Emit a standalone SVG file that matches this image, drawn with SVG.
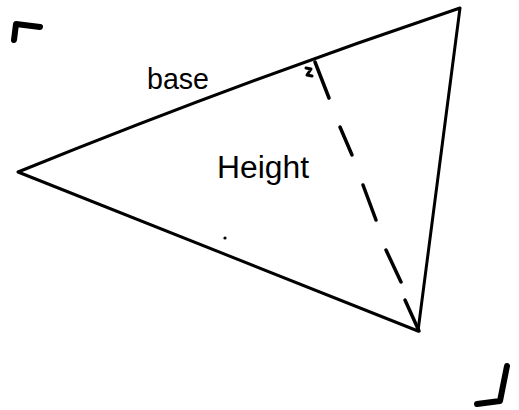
<svg xmlns="http://www.w3.org/2000/svg" width="519" height="410" viewBox="0 0 519 410">
<style>
.e{fill:none;stroke:#000;stroke-width:3;stroke-linecap:round;stroke-linejoin:round}
.d{fill:none;stroke:#000;stroke-width:3.5;stroke-linecap:round}
.c{fill:none;stroke:#000;stroke-width:6;stroke-linecap:round;stroke-linejoin:round}
.t{font-family:"Liberation Sans",Arial,sans-serif;fill:#000}
</style>
<rect width="519" height="410" fill="#fff"/>
<g id="corners">
<path class="c" d="M14,40 L16,24 L40,27"/>
<path class="c" d="M507,366 L500,401 L477,404"/>
</g>
<g id="triangle">
<path class="e" d="M460,8 Q240,82 18,172 L418,331 L460,8"/>
</g>
<g id="connectors">
<path class="d" d="M315,62 L329,98"/>
<path class="d" d="M340,127 L352,155"/>
<path class="d" d="M363,185 L376,220"/>
<path class="d" d="M386,250 L401,282"/>
<path class="d" d="M405,300 L419,331"/>
<path class="e" stroke-width="2" d="M306,68 L311,69 L307,75 L312,76"/>
<circle cx="225" cy="238" r="1.6" fill="#000"/>
</g>
<g id="labels">
<text class="t" x="147" y="89" font-size="29" textLength="62" lengthAdjust="spacingAndGlyphs">base</text>
<text class="t" x="217" y="178" font-size="31" textLength="92" lengthAdjust="spacingAndGlyphs">Height</text>
</g>
</svg>
